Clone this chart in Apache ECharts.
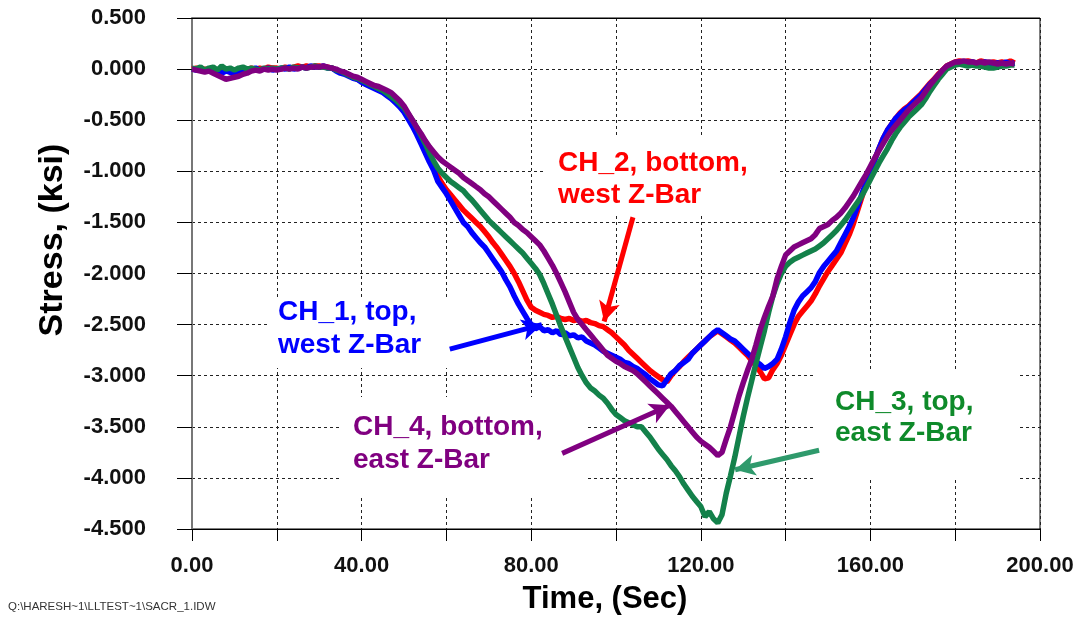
<!DOCTYPE html>
<html>
<head>
<meta charset="utf-8">
<script src="https://cdn.jsdelivr.net/npm/echarts@6/dist/echarts.min.js"></script>
<style>
html,body{margin:0;padding:0;background:#fff;}
#chart{width:1083px;height:619px;}
</style>
</head>
<body>
<div id="chart"></div>
<script>
// Time samples (seconds), one reading per second
const timeSec = Array.from({length: 195}, (_, i) => i);

// CH_1, top, west Z-Bar (blue)
const ch1 = [
 0.00,-0.01,0.01,-0.02,0.00,-0.03,-0.01,-0.04,-0.02,-0.03,
 -0.05,-0.02,-0.03,0.00,-0.01,0.01,-0.01,0.00,0.01,-0.01,
 0.00,0.01,0.00,0.02,0.00,0.01,0.02,0.01,0.03,0.02,
 0.02,0.03,0.01,0.01,-0.02,-0.04,-0.05,-0.07,-0.09,-0.10,
 -0.13,-0.15,-0.17,-0.19,-0.21,-0.23,-0.26,-0.29,-0.33,-0.37,
 -0.42,-0.49,-0.56,-0.64,-0.73,-0.82,-0.91,-0.99,-1.10,-1.16,
 -1.22,-1.29,-1.36,-1.43,-1.50,-1.54,-1.60,-1.65,-1.70,-1.74,
 -1.80,-1.86,-1.92,-1.98,-2.06,-2.13,-2.22,-2.30,-2.37,-2.44,
 -2.50,-2.54,-2.52,-2.56,-2.55,-2.58,-2.56,-2.60,-2.58,-2.61,
 -2.60,-2.63,-2.62,-2.66,-2.68,-2.70,-2.73,-2.76,-2.78,-2.80,
 -2.82,-2.84,-2.87,-2.88,-2.91,-2.93,-2.96,-2.99,-3.03,-3.06,
 -3.09,-3.10,-3.04,-2.98,-2.95,-2.90,-2.87,-2.84,-2.78,-2.74,
 -2.70,-2.66,-2.62,-2.58,-2.55,-2.58,-2.61,-2.64,-2.66,-2.70,
 -2.74,-2.78,-2.82,-2.86,-2.89,-2.93,-2.91,-2.88,-2.84,-2.74,
 -2.62,-2.48,-2.36,-2.28,-2.22,-2.18,-2.14,-2.08,-1.99,-1.93,
 -1.88,-1.83,-1.78,-1.70,-1.62,-1.54,-1.45,-1.34,-1.22,-1.11,
 -1.00,-0.89,-0.78,-0.68,-0.60,-0.54,-0.48,-0.44,-0.40,-0.37,
 -0.33,-0.29,-0.25,-0.20,-0.15,-0.11,-0.06,-0.02,0.02,0.04,
 0.06,0.07,0.07,0.06,0.07,0.06,0.05,0.07,0.06,0.05,
 0.06,0.05,0.07,0.05,0.06
];

// CH_2, bottom, west Z-Bar (red)
const ch2 = [
 0.00,0.01,-0.01,0.00,-0.02,-0.01,-0.03,-0.02,-0.01,-0.03,
 -0.02,-0.01,0.00,-0.01,0.01,0.00,0.01,0.00,0.02,0.01,
 0.01,0.00,0.02,0.01,0.02,0.03,0.02,0.03,0.02,0.03,
 0.03,0.02,0.02,0.01,-0.01,-0.03,-0.04,-0.06,-0.08,-0.10,
 -0.12,-0.14,-0.16,-0.18,-0.20,-0.22,-0.25,-0.28,-0.32,-0.36,
 -0.41,-0.47,-0.54,-0.62,-0.70,-0.79,-0.88,-0.97,-1.05,-1.12,
 -1.18,-1.23,-1.28,-1.33,-1.38,-1.42,-1.46,-1.50,-1.54,-1.59,
 -1.64,-1.70,-1.75,-1.81,-1.87,-1.93,-2.00,-2.08,-2.17,-2.26,
 -2.33,-2.36,-2.38,-2.40,-2.41,-2.43,-2.42,-2.44,-2.45,-2.44,
 -2.46,-2.45,-2.47,-2.46,-2.48,-2.49,-2.51,-2.52,-2.55,-2.58,
 -2.62,-2.66,-2.70,-2.75,-2.79,-2.83,-2.87,-2.91,-2.95,-2.98,
 -3.01,-3.04,-3.06,-3.00,-2.95,-2.91,-2.86,-2.82,-2.78,-2.74,
 -2.70,-2.66,-2.62,-2.59,-2.56,-2.59,-2.62,-2.65,-2.68,-2.72,
 -2.76,-2.80,-2.85,-2.90,-2.96,-3.03,-3.02,-2.94,-2.88,-2.80,
 -2.70,-2.60,-2.50,-2.42,-2.37,-2.32,-2.27,-2.20,-2.12,-2.05,
 -1.98,-1.92,-1.86,-1.80,-1.71,-1.62,-1.51,-1.38,-1.25,-1.12,
 -1.00,-0.89,-0.78,-0.68,-0.60,-0.54,-0.48,-0.43,-0.39,-0.36,
 -0.32,-0.28,-0.24,-0.19,-0.14,-0.10,-0.05,-0.01,0.03,0.05,
 0.07,0.08,0.07,0.08,0.07,0.06,0.08,0.07,0.06,0.07,
 0.06,0.07,0.06,0.08,0.06
];

// CH_3, top, east Z-Bar (green)
const ch3 = [
 0.01,0.00,0.02,-0.01,0.01,0.02,-0.01,0.03,0.00,0.01,
 -0.01,0.01,0.02,0.00,0.01,0.00,-0.01,0.01,0.00,0.01,
 0.00,0.01,0.01,0.00,0.02,0.01,0.02,0.01,0.02,0.03,
 0.02,0.02,0.01,0.01,-0.01,-0.02,-0.04,-0.06,-0.08,-0.09,
 -0.11,-0.13,-0.15,-0.17,-0.19,-0.21,-0.24,-0.27,-0.30,-0.34,
 -0.38,-0.44,-0.50,-0.57,-0.65,-0.73,-0.82,-0.90,-0.97,-1.02,
 -1.06,-1.10,-1.13,-1.16,-1.19,-1.24,-1.28,-1.33,-1.38,-1.43,
 -1.48,-1.52,-1.56,-1.60,-1.64,-1.68,-1.72,-1.76,-1.80,-1.85,
 -1.90,-1.95,-2.01,-2.10,-2.20,-2.30,-2.41,-2.52,-2.62,-2.72,
 -2.82,-2.92,-3.00,-3.07,-3.12,-3.15,-3.19,-3.22,-3.27,-3.33,
 -3.38,-3.41,-3.44,-3.46,-3.48,-3.50,-3.50,-3.55,-3.60,-3.66,
 -3.72,-3.77,-3.82,-3.88,-3.93,-3.99,-4.06,-4.12,-4.18,-4.23,
 -4.28,-4.38,-4.33,-4.40,-4.44,-4.36,-4.15,-3.98,-3.80,-3.60,
 -3.40,-3.22,-3.05,-2.88,-2.72,-2.56,-2.38,-2.22,-2.10,-2.00,
 -1.93,-1.89,-1.86,-1.84,-1.82,-1.80,-1.78,-1.76,-1.73,-1.70,
 -1.66,-1.62,-1.58,-1.53,-1.48,-1.42,-1.36,-1.30,-1.24,-1.16,
 -1.08,-1.00,-0.92,-0.85,-0.78,-0.70,-0.63,-0.57,-0.52,-0.47,
 -0.43,-0.39,-0.35,-0.29,-0.22,-0.16,-0.10,-0.05,0.00,0.02,
 0.04,0.05,0.04,0.03,0.04,0.03,0.03,0.02,0.01,0.01,
 0.02,0.03,0.03,0.04,0.04
];

// CH_4, bottom, east Z-Bar (purple)
const ch4 = [
 0.00,-0.01,-0.02,-0.03,-0.02,-0.04,-0.06,-0.08,-0.10,-0.09,
 -0.08,-0.07,-0.05,-0.04,-0.02,-0.01,-0.02,0.00,-0.01,0.00,
 -0.01,0.00,0.01,0.00,0.01,0.00,0.02,0.01,0.02,0.02,
 0.02,0.03,0.02,0.01,0.00,-0.02,-0.03,-0.05,-0.07,-0.08,
 -0.10,-0.12,-0.14,-0.16,-0.17,-0.19,-0.21,-0.23,-0.27,-0.31,
 -0.36,-0.43,-0.50,-0.57,-0.63,-0.70,-0.76,-0.81,-0.86,-0.90,
 -0.93,-0.96,-0.99,-1.02,-1.06,-1.09,-1.12,-1.15,-1.18,-1.22,
 -1.25,-1.29,-1.33,-1.37,-1.41,-1.45,-1.50,-1.53,-1.57,-1.60,
 -1.64,-1.68,-1.72,-1.78,-1.85,-1.92,-2.00,-2.09,-2.18,-2.28,
 -2.38,-2.45,-2.50,-2.55,-2.60,-2.65,-2.70,-2.75,-2.80,-2.83,
 -2.86,-2.88,-2.91,-2.93,-2.95,-2.98,-3.02,-3.06,-3.10,-3.14,
 -3.18,-3.22,-3.26,-3.30,-3.35,-3.40,-3.45,-3.50,-3.55,-3.60,
 -3.64,-3.67,-3.70,-3.74,-3.78,-3.75,-3.62,-3.50,-3.35,-3.20,
 -3.07,-2.95,-2.84,-2.70,-2.55,-2.43,-2.32,-2.22,-2.05,-1.93,
 -1.82,-1.78,-1.74,-1.72,-1.70,-1.68,-1.66,-1.62,-1.56,-1.54,
 -1.52,-1.48,-1.45,-1.41,-1.36,-1.30,-1.24,-1.17,-1.10,-1.03,
 -0.95,-0.87,-0.80,-0.73,-0.66,-0.60,-0.55,-0.50,-0.45,-0.40,
 -0.36,-0.32,-0.28,-0.22,-0.16,-0.11,-0.06,-0.01,0.03,0.05,
 0.07,0.07,0.08,0.07,0.07,0.06,0.07,0.06,0.07,0.06,
 0.05,0.06,0.05,0.06,0.05
];

// Annotation arrows: [fromTime, fromStress, toTime, toStress]
const arrowCH1 = [60.8, -2.74, 82.5, -2.50];
const arrowCH2 = [104.0, -1.45, 97.2, -2.47];
const arrowCH3 = [147.9, -3.73, 128.1, -3.92];
const arrowCH4 = [87.3, -3.76, 112.7, -3.29];

const xTicks = [0, 40, 80, 120, 160, 200];

const FONT = '"Liberation Sans", Arial, Helvetica, sans-serif';
const pairs = arr => timeSec.map((t, i) => [t, arr[i]]);
const arrowLine = (a, color) => ({
  silent: true,
  symbol: ['none', 'arrow'],
  symbolSize: [16, 20],
  label: {show: false},
  lineStyle: {color: color, width: 5, type: 'solid'},
  emphasis: {disabled: true},
  data: [[{coord: [a[0], a[1]]}, {coord: [a[2], a[3]]}]]
});

const chart = echarts.init(document.getElementById('chart'), null, {renderer: 'canvas'});

const mkSeries = (name, arr, color, arrow, arrowColor) => ({
  name: name,
  type: 'line',
  data: pairs(arr),
  showSymbol: false,
  symbol: 'none',
  smooth: false,
  lineStyle: {color: color, width: 5.5},
  itemStyle: {color: color},
  z: 3,
  markLine: arrowLine(arrow, arrowColor)
});

const labelBox = (x, y, w, h) => ({
  type: 'rect', z: 1, silent: true,
  shape: {x: x, y: y, width: w, height: h},
  style: {fill: '#ffffff'}
});
const labelText = (x, y, text, color) => ({
  type: 'text', z: 1, silent: true,
  x: x, y: y,
  style: {text: text, fill: color, font: 'bold 28px ' + FONT, align: 'left', verticalAlign: 'middle'}
});

chart.setOption({
  animation: false,
  backgroundColor: '#ffffff',
  grid: {left: 192, right: 43, top: 18, bottom: 90, show: true, borderColor: '#000', borderWidth: 1, backgroundColor: 'transparent'},
  xAxis: {
    type: 'value', min: 0, max: 200, interval: 20,
    axisLine: {show: true, onZero: false, lineStyle: {color: '#000', width: 1}},
    axisTick: {show: true, inside: false, length: 12, lineStyle: {color: '#000', width: 1}},
    axisLabel: {
      margin: 26, color: '#111', fontFamily: FONT, fontWeight: 'bold', fontSize: 22,
      formatter: v => xTicks.includes(v) ? v.toFixed(2) : ''
    },
    splitLine: {show: true, lineStyle: {color: '#222', width: 1, type: [3, 3]}}
  },
  yAxis: {
    type: 'value', min: -4.5, max: 0.5, interval: 0.5,
    axisLine: {show: true, onZero: false, lineStyle: {color: '#777', width: 2}},
    axisTick: {show: true, inside: false, length: 15, lineStyle: {color: '#000', width: 1}},
    axisLabel: {
      margin: 46, color: '#111', fontFamily: FONT, fontWeight: 'bold', fontSize: 22,
      formatter: v => v.toFixed(3)
    },
    splitLine: {show: true, lineStyle: {color: '#222', width: 1, type: [3, 3]}}
  },
  series: [
    mkSeries('CH_2', ch2, '#ff0000', arrowCH2, '#ff0000'),
    mkSeries('CH_1', ch1, '#0000ff', arrowCH1, '#0000ff'),
    mkSeries('CH_3', ch3, '#13814a', arrowCH3, '#2f9a6c'),
    mkSeries('CH_4', ch4, '#800080', arrowCH4, '#800080')
  ],
  graphic: [
    // top border (0.5) solid line
    {type: 'line', z: 5, silent: true, shape: {x1: 177, y1: 18.5, x2: 1040, y2: 18.5}, style: {stroke: '#000', lineWidth: 1}},
    // label background boxes
    labelBox(268, 298, 222, 70),
    labelBox(545, 135, 232, 79),
    labelBox(340, 397, 248, 100),
    labelBox(813, 372, 204, 108),
    labelText(278, 312, 'CH_1, top,', '#0000ff'),
    labelText(278, 345, 'west Z-Bar', '#0000ff'),
    labelText(558, 163, 'CH_2, bottom,', '#ff0000'),
    labelText(558, 195, 'west Z-Bar', '#ff0000'),
    labelText(353, 427, 'CH_4, bottom,', '#800080'),
    labelText(353, 460, 'east Z-Bar', '#800080'),
    labelText(835, 402, 'CH_3, top,', '#0e8a2a'),
    labelText(835, 433, 'east Z-Bar', '#0e8a2a'),
    // axis titles
    {type: 'text', z: 5, silent: true, x: 53, y: 240, rotation: Math.PI / 2,
     style: {text: 'Stress, (ksi)', fill: '#000', font: 'bold 34px ' + FONT, align: 'center', verticalAlign: 'middle'}},
    {type: 'text', z: 5, silent: true, x: 605, y: 599,
     style: {text: 'Time, (Sec)', fill: '#000', font: 'bold 31px ' + FONT, align: 'center', verticalAlign: 'middle'}},
    {type: 'text', z: 5, silent: true, x: 8, y: 607,
     style: {text: 'Q:\\HARESH~1\\LLTEST~1\\SACR_1.IDW', fill: '#333', font: '11.5px ' + FONT, align: 'left', verticalAlign: 'middle'}}
  ]
});
</script>
</body>
</html>
